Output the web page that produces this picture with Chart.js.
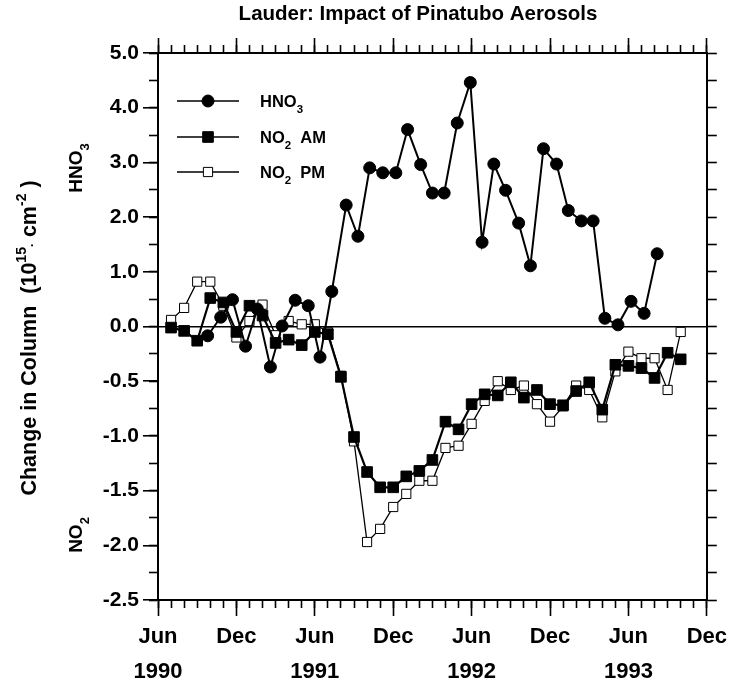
<!DOCTYPE html>
<html>
<head>
<meta charset="utf-8">
<script src="https://cdn.jsdelivr.net/npm/chart.js@4.4.1/dist/chart.umd.min.js"></script>
<style>
  html, body { margin: 0; padding: 0; background: #fff; }
  #caixa { width: 730px; height: 689px; }
</style>
</head>
<body>
<div id="caixa"><canvas id="graficoLauder" width="730" height="689"></canvas></div>
<script>
// meses contados a partir de Jun 1990 (0) ate Dec 1993 (42)
const tickMonths = ['Jun', 'Dec', 'Jun', 'Dec', 'Jun', 'Dec', 'Jun', 'Dec'];
const tickYears = ['1990', '', '1991', '', '1992', '', '1993', ''];

// eixo y: metade de cima em HNO3, metade de baixo em NO2 (escala dobrada)
const yTickValues = [-5, -4, -3, -2, -1, 0, 1, 2, 3, 4, 5];
const yTickLabels = ['-2.5', '-2.0', '-1.5', '-1.0', '-0.5', '0.0', '1.0', '2.0', '3.0', '4.0', '5.0'];

const hno3Month = [3.8, 4.8, 5.7, 6.7, 7.6, 8.6, 9.5, 10.5, 11.5, 12.4, 13.3, 14.4, 15.3, 16.2, 17.2, 18.2, 19.1, 20.1, 21.0, 21.9,
    22.9, 23.9, 24.8, 25.7, 26.6, 27.6, 28.5, 29.5, 30.5, 31.4, 32.4, 33.3, 34.2, 35.2, 36.2, 37.2, 38.2];
const hno3 = [-0.17, 0.17, 0.49, -0.36, 0.32, -0.74, 0.01, 0.48, 0.38, -0.56, 0.64, 2.22, 1.65, 2.90, 2.81, 2.81, 3.60, 2.96, 2.44, 2.44,
    3.72, 4.46, 1.54, 2.97, 2.49, 1.89, 1.11, 3.25, 2.97, 2.12, 1.93, 1.93, 0.15, 0.03, 0.46, 0.24, 1.33];

const no2Month = [1, 2, 3, 4, 5, 6, 7, 8, 9, 10, 11, 12, 13, 14, 15, 16, 17, 18, 19, 20,
    21, 22, 23, 24, 25, 26, 27, 28, 29, 30, 31, 32, 33, 34, 35, 36, 37, 38, 39, 40];
const no2Am = [-0.01, -0.04, -0.13, 0.26, 0.22, -0.05, 0.19, 0.10, -0.15, -0.12, -0.17, -0.05, -0.07, -0.46, -1.01, -1.33, -1.47, -1.47, -1.37, -1.32,
    -1.22, -0.87, -0.94, -0.71, -0.62, -0.63, -0.51, -0.65, -0.58, -0.71, -0.72, -0.59, -0.51, -0.76, -0.35, -0.36, -0.38, -0.47, -0.24, -0.30];
const no2Pm = [0.06, 0.17, 0.41, 0.41, 0.19, -0.10, 0.05, 0.20, -0.08, 0.05, 0.02, 0.02, -0.05, -0.45, -1.05, -1.97, -1.85, -1.65, -1.53, -1.41,
    -1.41, -1.11, -1.09, -0.89, -0.68, -0.50, -0.58, -0.54, -0.71, -0.87, -0.73, -0.54, -0.58, -0.83, -0.41, -0.23, -0.29, -0.29, -0.58, -0.05];

const fonte = 'Liberation Sans';

function pontos(meses, valores, fator) {
    return meses.map((m, i) => ({ x: m, y: valores[i] * fator }));
}

// escreve texto com sub/sobrescrito, centrado em (x, y), opcionalmente girado
function escreveTexto(ctx, partes, x, y, girar, alinhar) {
    ctx.save();
    ctx.translate(x, y);
    if (girar) ctx.rotate(-Math.PI / 2);
    ctx.textBaseline = 'alphabetic';
    ctx.textAlign = 'left';
    let total = 0;
    partes.forEach(p => {
        ctx.font = `bold ${p.size}px "${fonte}"`;
        total += ctx.measureText(p.t).width;
    });
    let pos = alinhar === 'left' ? 0 : -total / 2;
    partes.forEach(p => {
        ctx.font = `bold ${p.size}px "${fonte}"`;
        ctx.fillText(p.t, pos, p.dy || 0);
        pos += ctx.measureText(p.t).width;
    });
    ctx.restore();
}

const textosExtras = {
    id: 'textosExtras',
    afterDraw(chart) {
        const ctx = chart.ctx;
        ctx.save();
        ctx.fillStyle = '#000';
        ctx.strokeStyle = '#000';

        escreveTexto(ctx, [{ t: 'Lauder: Impact of Pinatubo Aerosols', size: 20.5 }], 418, 20, false);

        escreveTexto(ctx, [
            { t: 'Change in Column  (10', size: 21.5 },
            { t: '15', size: 14, dy: -10 },
            { t: '\u00b7', size: 12 },
            { t: ' cm', size: 21.5 },
            { t: '-2', size: 14, dy: -10 },
            { t: ' )', size: 21.5 }
        ], 36, 338, true);

        escreveTexto(ctx, [{ t: 'HNO', size: 19 }, { t: '3', size: 13, dy: 7 }], 82, 168, true);
        escreveTexto(ctx, [{ t: 'NO', size: 19 }, { t: '2', size: 13, dy: 7 }], 82, 535, true);

        // legenda
        const linhas = [
            { y: 101, estilo: 'circle', raio: 6, cheio: true, texto: [{ t: 'HNO', size: 16.5 }, { t: '3', size: 11.5, dy: 6 }] },
            { y: 137, estilo: 'rect', raio: 7.5, cheio: true, texto: [{ t: 'NO', size: 16.5 }, { t: '2', size: 11.5, dy: 6 }, { t: '  AM', size: 16.5 }] },
            { y: 172, estilo: 'rect', raio: 6.5, cheio: false, texto: [{ t: 'NO', size: 16.5 }, { t: '2', size: 11.5, dy: 6 }, { t: '  PM', size: 16.5 }] }
        ];
        linhas.forEach(l => {
            ctx.lineWidth = 1.6;
            ctx.beginPath();
            ctx.moveTo(177, l.y);
            ctx.lineTo(239, l.y);
            ctx.stroke();
            ctx.fillStyle = l.cheio ? '#000' : '#fff';
            ctx.lineWidth = 1;
            Chart.helpers.drawPoint(ctx, { pointStyle: l.estilo, radius: l.raio, rotation: 0, borderWidth: 1 }, 208, l.y);
            ctx.fillStyle = '#000';
            escreveTexto(ctx, l.texto, 260, l.y + 6, false, 'left');
        });
        ctx.restore();
    }
};

const fonteTicksX = { family: fonte, size: 22, weight: 'bold' };
const fonteTicksY = { family: fonte, size: 21, weight: 'bold' };
const semGrade = { drawOnChartArea: false, color: '#000', tickColor: '#000', tickWidth: 1.6 };
const borda = { display: true, color: '#000', width: 2 };

const graficoLauder = new Chart(document.getElementById('graficoLauder'), {
    type: 'line',
    data: {
        datasets: [{
            label: 'HNO3',
            data: pontos(hno3Month, hno3, 1),
            borderColor: '#000',
            backgroundColor: '#000',
            borderWidth: 2,
            pointStyle: 'circle',
            pointRadius: 6,
            pointBorderWidth: 1,
            tension: 0
        }, {
            label: 'NO2 AM',
            data: pontos(no2Month, no2Am, 2),
            borderColor: '#000',
            backgroundColor: '#000',
            borderWidth: 2.2,
            pointStyle: 'rect',
            pointRadius: 7.5,
            pointBorderWidth: 1,
            tension: 0
        }, {
            label: 'NO2 PM',
            data: pontos(no2Month, no2Pm, 2),
            borderColor: '#000',
            backgroundColor: '#fff',
            borderWidth: 1.3,
            pointStyle: 'rect',
            pointRadius: 6.5,
            pointBorderWidth: 1,
            tension: 0
        }]
    },
    options: {
        responsive: false,
        devicePixelRatio: 1,
        animation: false,
        layout: { padding: 0 },
        plugins: {
            legend: { display: false },
            tooltip: { enabled: false }
        },
        scales: {
            x: {
                type: 'linear', position: 'bottom', weight: 0,
                min: 0, max: 42,
                ticks: { stepSize: 1, display: false, autoSkip: false },
                grid: Object.assign({ tickLength: 8 }, semGrade),
                border: borda,
                afterFit: s => { s.height = 0; }
            },
            xMaior: {
                type: 'linear', position: 'bottom', weight: 1,
                min: 0, max: 42,
                ticks: {
                    stepSize: 6, autoSkip: false, maxRotation: 0, padding: 3,
                    color: '#000', font: Object.assign({ lineHeight: 1.6 }, fonteTicksX),
                    callback: v => [tickMonths[v / 6], tickYears[v / 6]]
                },
                grid: Object.assign({ tickLength: 16 }, semGrade),
                border: { display: false },
                afterFit: s => { s.height = 89; }
            },
            xTopo: {
                type: 'linear', position: 'top', weight: 0,
                min: 0, max: 42,
                ticks: { stepSize: 1, display: false, autoSkip: false },
                grid: Object.assign({ tickLength: 8 }, semGrade),
                border: borda,
                afterFit: s => { s.height = 0; }
            },
            xTopoMaior: {
                type: 'linear', position: 'top', weight: 1,
                min: 0, max: 42,
                ticks: { stepSize: 6, display: false, autoSkip: false },
                grid: Object.assign({ tickLength: 15 }, semGrade),
                border: { display: false },
                afterFit: s => { s.height = 53; }
            },
            y: {
                type: 'linear', position: 'left', weight: 0,
                min: -5, max: 5,
                ticks: { stepSize: 0.5, display: false, autoSkip: false },
                grid: Object.assign({ tickLength: 9 }, semGrade),
                border: borda,
                afterFit: s => { s.width = 0; }
            },
            yMaior: {
                type: 'linear', position: 'left', weight: 1,
                min: -5, max: 5,
                ticks: {
                    stepSize: 1, autoSkip: false, padding: 4,
                    color: '#000', font: fonteTicksY,
                    callback: v => yTickLabels[yTickValues.indexOf(v)]
                },
                grid: {
                    drawOnChartArea: true,
                    color: c => (c.tick && c.tick.value === 0 ? '#000' : 'rgba(0,0,0,0)'),
                    lineWidth: 1.6,
                    tickColor: '#000', tickWidth: 1.6, tickLength: 15
                },
                border: { display: false },
                afterFit: s => { s.width = 158; }
            },
            yDireita: {
                type: 'linear', position: 'right',
                min: -5, max: 5,
                ticks: { stepSize: 0.5, display: false, autoSkip: false },
                grid: Object.assign({ tickLength: 10 }, semGrade),
                border: borda,
                afterFit: s => { s.width = 20; }
            }
        }
    },
    plugins: [textosExtras]
});
</script>
</body>
</html>
